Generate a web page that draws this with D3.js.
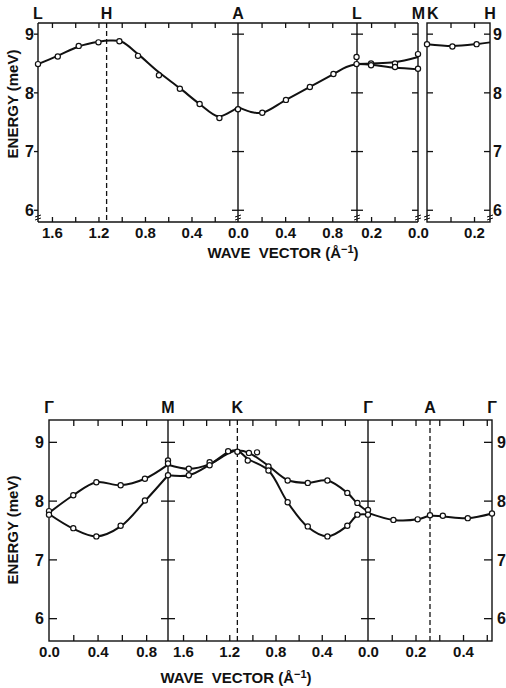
<!DOCTYPE html>
<html><head><meta charset="utf-8">
<script src="https://cdn.jsdelivr.net/npm/d3@7"></script>
<style>
body{margin:0;background:#fff}
svg{display:block}
text{font-family:"Liberation Sans Narrow","Liberation Sans",Arial,sans-serif;fill:#111}
</style>
</head><body>
<svg id="c" width="506" height="688"></svg>
<script>
// ---------------- DATA ----------------
const energyTicks = [6, 7, 8, 9];

// Top panel: L-H-A | A-L | L-M | K-H
const topPointLabels = [{t:"L",seg:0,v:1.72,a:"middle",dx:0},{t:"H",seg:0,v:1.13,a:"middle",dx:0},{t:"A",seg:0,v:0,a:"middle",dx:0},{t:"L",seg:1,v:1.01,a:"middle",dx:0},{t:"M",seg:2,v:0,a:"end",dx:7},{t:"K",seg:3,v:0,a:"start",dx:0},{t:"H",seg:3,v:0.268,a:"middle",dx:0}];
const topTickVals = [[1.6,1.4,1.2,1.0,0.8,0.6,0.4,0.2],[0.2,0.4,0.6,0.8],[0.2,0.1],[0.1,0.2]];
const topTickLabels = [[1.6,1.2,0.8,0.4,0.0],[0.4,0.8],[0.2,0.0],[0.2]];

const topLHA_pts = [[1.72,8.49],[1.55,8.62],[1.37,8.80],[1.20,8.86],[1.02,8.88],[0.86,8.63],[0.68,8.30],[0.50,8.07],[0.33,7.81],[0.16,7.57],[0.0,7.72]];
const topLHA_fit = [[1.72,8.49],[1.55,8.63],[1.37,8.79],[1.20,8.87],[1.10,8.89],[1.00,8.87],[0.86,8.66],[0.68,8.35],[0.50,8.08],[0.33,7.81],[0.17,7.60],[0.07,7.67],[0.0,7.76]];
const topAL_pts = [[0.206,7.66],[0.407,7.88],[0.61,8.10],[0.81,8.32],[1.006,8.49],[1.006,8.61]];
const topAL_fit = [[0.0,7.76],[0.1,7.68],[0.206,7.66],[0.407,7.88],[0.61,8.10],[0.81,8.32],[0.92,8.44],[1.01,8.49]];
const topLM_up_pts = [[0.2,8.50],[0.098,8.50],[0.0,8.66]];
const topLM_lo_pts = [[0.2,8.47],[0.098,8.44],[0.0,8.41]];
const topLM_up_fit = [[0.26,8.49],[0.2,8.50],[0.1,8.52],[0.0,8.61]];
const topLM_lo_fit = [[0.26,8.49],[0.2,8.48],[0.1,8.43],[0.0,8.40]];
const topKH_pts = [[0.0,8.83],[0.108,8.79],[0.211,8.83]];
const topKH_fit = [[0.0,8.83],[0.108,8.80],[0.211,8.83],[0.268,8.86]];

// Bottom panel: Γ-M | M-K-Γ | Γ-A-Γ
const botPointLabels = [{t:"Γ",seg:0,v:0,a:"middle",dx:0},{t:"M",seg:0,v:0.98,a:"middle",dx:0},{t:"K",seg:1,v:1.13,a:"middle",dx:0},{t:"Γ",seg:1,v:0,a:"middle",dx:0},{t:"A",seg:2,v:0.261,a:"middle",dx:0},{t:"Γ",seg:2,v:0.522,a:"middle",dx:0}];
const botTickVals = [[0.2,0.4,0.6,0.8],[1.6,1.4,1.2,1.0,0.8,0.6,0.4,0.2],[0.1,0.2,0.3,0.4,0.5]];
const botTickLabels = [[0.0,0.4,0.8],[1.6,1.2,0.8,0.4,0.0],[0.2,0.4]];

const botGM_pts = [[0,7.83],[0.2,8.10],[0.39,8.32],[0.59,8.27],[0.79,8.38],[0.98,8.69],[0.98,8.64],
                   [0,7.77],[0.2,7.54],[0.39,7.40],[0.59,7.58],[0.79,8.01],[0.98,8.44]];
const botMK_pts = [[1.55,8.55],[1.55,8.44],[1.37,8.66],[1.37,8.61],[1.21,8.85],[1.13,8.84],[1.03,8.82],[1.04,8.69],[0.96,8.83],
                   [0.861,8.59],[0.695,8.35],[0.521,8.31],[0.351,8.35],[0.179,8.14],[0.092,7.97],[0,7.85],
                   [0.861,8.52],[0.695,7.98],[0.521,7.57],[0.351,7.40],[0.179,7.58],[0.092,7.77],[0,7.77]];
const botGAG_pts = [[0.107,7.68],[0.209,7.69],[0.261,7.76],[0.315,7.75],[0.42,7.71],[0.522,7.79]];

const botGM_fitA = [[0,7.80],[0.2,8.10],[0.39,8.32],[0.59,8.27],[0.79,8.38],[0.98,8.62]];
const botGM_fitB = [[0,7.78],[0.2,7.53],[0.39,7.40],[0.59,7.57],[0.79,8.00],[0.98,8.44]];
const botMK_fitA = [[1.73,8.62],[1.55,8.55],[1.37,8.63],[1.20,8.82],[1.13,8.86],[1.03,8.82],[0.861,8.60],[0.695,8.36],[0.521,8.31],[0.351,8.35],[0.179,8.14],[0.092,7.96],[0,7.82]];
const botMK_fitB = [[1.73,8.44],[1.55,8.44],[1.37,8.62],[1.20,8.84],[1.13,8.86],[1.04,8.72],[0.861,8.52],[0.695,7.98],[0.521,7.56],[0.351,7.40],[0.179,7.58],[0.092,7.76],[0,7.77]];
const botGAG_fit = [[0,7.80],[0.107,7.68],[0.209,7.69],[0.261,7.75],[0.315,7.74],[0.42,7.71],[0.522,7.79]];

// ---------------- DRAW ----------------
const ink = "#111";
const svg = d3.select("#c");
const fmt = d3.format(".1f");

const yT = d3.scaleLinear().domain([5.8, 9.19]).range([222, 23]);
const xT = [
  d3.scaleLinear().domain([1.72, 0]).range([38, 238]),
  d3.scaleLinear().domain([0, 1.01]).range([238, 357]),
  d3.scaleLinear().domain([0.26, 0]).range([357, 418]),
  d3.scaleLinear().domain([0, 0.268]).range([427, 490])
];
const yB = d3.scaleLinear().domain([5.62, 9.38]).range([641, 420]);
const xB = [
  d3.scaleLinear().domain([0, 0.98]).range([49, 168]),
  d3.scaleLinear().domain([1.73, 0]).range([168, 368]),
  d3.scaleLinear().domain([0, 0.522]).range([368, 492])
];

function line(x0, y0, x1, y1, w, dash) {
  const l = svg.append("line").attr("x1", x0).attr("y1", y0).attr("x2", x1).attr("y2", y1)
    .attr("stroke", ink).attr("stroke-width", w || 1.4);
  if (dash) l.attr("stroke-dasharray", dash);
  return l;
}
function cleanAxis(g, keepText, keepLines) {
  g.attr("font-family", null).attr("font-size", null);
  g.select(".domain").remove();
  if (!keepText) g.selectAll("text").remove();
  if (!keepLines) g.selectAll("line").remove();
  g.selectAll("line").attr("stroke", ink).attr("stroke-width", 1.3);
  g.selectAll("text").attr("fill", ink).attr("font-size", 15).attr("font-weight", "bold");
}
function xTicks(scale, vals, yTop, yBot, len) {
  cleanAxis(svg.append("g").attr("transform", `translate(0,${yTop})`)
    .call(d3.axisTop(scale).tickValues(vals).tickSize(-len).tickFormat("")), false, true);
  cleanAxis(svg.append("g").attr("transform", `translate(0,${yBot})`)
    .call(d3.axisBottom(scale).tickValues(vals).tickSize(-len).tickFormat("")), false, true);
}
function xLabels(scale, vals, yBot) {
  const g = svg.append("g").attr("transform", `translate(0,${yBot})`)
    .call(d3.axisBottom(scale).tickValues(vals).tickSize(0).tickPadding(5).tickFormat(fmt));
  cleanAxis(g, true, false);
}
function crossTicks(yScale, x, left, right) {
  energyTicks.forEach(v => line(x - left, yScale(v), x + right, yScale(v), 1.3));
}
function yLabels(yScale, x, anchor) {
  svg.append("g").selectAll("text").data(energyTicks).join("text")
    .attr("x", x).attr("y", d => yScale(d)).attr("dy", "0.36em")
    .attr("text-anchor", anchor).attr("font-size", 16).attr("font-weight", "bold").text(d => d);
}
function breakMark(x, y) {
  svg.append("path").attr("d", `M${x-3},${y+1} L${x+3},${y-1} M${x-3},${y+4} L${x+3},${y+2}`)
    .attr("stroke", ink).attr("stroke-width", 1).attr("fill", "none");
}
const curveGen = (xs, ys) => d3.line().x(d => xs(d[0])).y(d => ys(d[1])).curve(d3.curveCatmullRom.alpha(0.5));
function fit(data, xs, ys) {
  svg.append("path").datum(data).attr("d", curveGen(xs, ys)).attr("fill", "none")
    .attr("stroke", ink).attr("stroke-width", 2);
}
function pts(data, xs, ys) {
  svg.append("g").selectAll("circle").data(data).join("circle")
    .attr("cx", d => xs(d[0])).attr("cy", d => ys(d[1])).attr("r", 2.6)
    .attr("fill", "#fff").attr("stroke", ink).attr("stroke-width", 1.2);
}
function pointLabels(list, xs, y) {
  svg.append("g").selectAll("text").data(list).join("text")
    .attr("x", d => xs[d.seg](d.v) + d.dx).attr("y", y).attr("text-anchor", d => d.a)
    .attr("font-size", 16).attr("font-weight", "bold").text(d => d.t);
}
function axisTitle(x, y) {
  svg.append("text").attr("x", x).attr("y", y).attr("text-anchor", "middle")
    .attr("font-size", 15).attr("font-weight", "bold")
    .html("WAVE&#160;&#160;VECTOR (Å<tspan dy='-5' font-size='11'>−1</tspan><tspan dy='5'>)</tspan>");
}

// ===== TOP PANEL =====
{
  const top = yT.range()[1], bot = yT.range()[0];
  line(xT[0](1.72), top, xT[2](0), top);
  line(xT[0](1.72), bot, xT[2](0), bot);
  line(xT[0](1.72), top, xT[0](1.72), bot);
  line(xT[2](0), top, xT[2](0), bot);
  svg.append("rect").attr("x", xT[3](0)).attr("y", top).attr("width", xT[3](0.268) - xT[3](0))
    .attr("height", bot - top).attr("fill", "none").attr("stroke", ink).attr("stroke-width", 1.4);
  line(xT[0](1.13), top, xT[0](1.13), bot, 1.3, "5,3");
  line(xT[1](0), top, xT[1](0), bot, 1.4);
  line(xT[1](1.01), top, xT[1](1.01), bot, 1.4);
  xT.forEach((s, i) => xTicks(s, topTickVals[i], top, bot, 5));
  xT.forEach((s, i) => xLabels(s, topTickLabels[i], bot));
  energyTicks.forEach(v => line(xT[0](1.72) - 4, yT(v), xT[0](1.72), yT(v), 1.3));
  crossTicks(yT, xT[1](0), 6, 6);
  crossTicks(yT, xT[1](1.01), 6, 6);
  crossTicks(yT, xT[2](0), 6, 0);
  crossTicks(yT, xT[3](0), 0, 6);
  crossTicks(yT, xT[3](0.268), 6, 0);
  yLabels(yT, xT[0](1.72) - 4, "end");
  yLabels(yT, xT[3](0.268) + 3, "start");
  [xT[0](1.72), xT[1](0), xT[1](1.01), xT[2](0), xT[3](0), xT[3](0.268)].forEach(x => breakMark(x, bot - 6));
  fit(topLHA_fit, xT[0], yT);
  fit(topAL_fit, xT[1], yT);
  fit(topLM_up_fit, xT[2], yT);
  fit(topLM_lo_fit, xT[2], yT);
  fit(topKH_fit, xT[3], yT);
  pts(topLHA_pts, xT[0], yT);
  pts(topAL_pts, xT[1], yT);
  pts(topLM_up_pts, xT[2], yT);
  pts(topLM_lo_pts, xT[2], yT);
  pts(topKH_pts, xT[3], yT);
  pointLabels(topPointLabels, xT, 19);
  axisTitle(283, 258);
  svg.append("text").attr("transform", "translate(18,104) rotate(-90)").attr("text-anchor", "middle")
    .attr("font-size", 15).attr("font-weight", "bold").text("ENERGY (meV)");
}

// ===== BOTTOM PANEL =====
{
  const top = yB.range()[1], bot = yB.range()[0];
  const xl = xB[0](0), xr = xB[2](0.522);
  svg.append("rect").attr("x", xl).attr("y", top).attr("width", xr - xl).attr("height", bot - top)
    .attr("fill", "none").attr("stroke", ink).attr("stroke-width", 1.4);
  line(xB[0](0.98), top, xB[0](0.98), bot, 1.4);
  line(xB[1](1.13), top, xB[1](1.13), bot, 1.3, "5,3");
  line(xB[1](0), top, xB[1](0), bot, 1.4);
  line(xB[2](0.261), top, xB[2](0.261), bot, 1.3, "5,3");
  xB.forEach((s, i) => xTicks(s, botTickVals[i], top, bot, 6));
  xB.forEach((s, i) => xLabels(s, botTickLabels[i], bot));
  crossTicks(yB, xl, 0, 8);
  crossTicks(yB, xB[0](0.98), 7, 7);
  crossTicks(yB, xB[1](0), 7, 7);
  crossTicks(yB, xr, 8, 0);
  yLabels(yB, xl - 5, "end");
  yLabels(yB, xr + 5, "start");
  fit(botGM_fitA, xB[0], yB);
  fit(botGM_fitB, xB[0], yB);
  fit(botMK_fitA, xB[1], yB);
  fit(botMK_fitB, xB[1], yB);
  fit(botGAG_fit, xB[2], yB);
  pts(botGM_pts, xB[0], yB);
  pts(botMK_pts, xB[1], yB);
  pts(botGAG_pts, xB[2], yB);
  pointLabels(botPointLabels, xB, 413);
  axisTitle(236, 683);
  svg.append("text").attr("transform", "translate(18,530) rotate(-90)").attr("text-anchor", "middle")
    .attr("font-size", 15).attr("font-weight", "bold").text("ENERGY (meV)");
}
</script>
</body></html>
